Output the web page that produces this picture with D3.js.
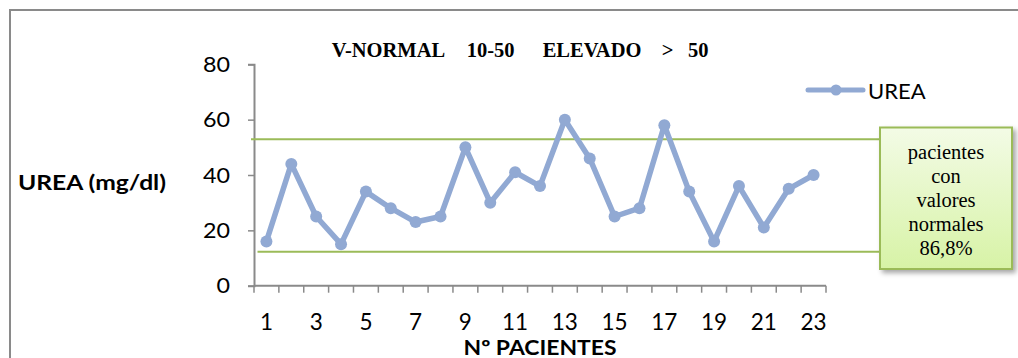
<!DOCTYPE html>
<html>
<head>
<meta charset="utf-8">
<script src="https://cdn.jsdelivr.net/npm/d3@7"></script>
<style>
  html, body { margin: 0; padding: 0; background: #fff; }
  svg { display: block; }
</style>
</head>
<body>
<svg id="chart" width="1018" height="358"></svg>
<script>
// Urea (mg/dl) per patient
const patients = d3.range(1, 24);
const urea = [16, 44, 25, 15, 34, 28, 23, 25, 50, 30, 41, 36, 60, 46, 25, 28, 58, 34, 16, 36, 21, 35, 40];
const yTicks = [0, 20, 40, 60, 80];
const xTickLabels = [1, 3, 5, 7, 9, 11, 13, 15, 17, 19, 21, 23];
// limits of the normal band drawn as guide lines
const bandLimits = [52.9, 12.3];
const titleParts = ["V-NORMAL", "10-50", "ELEVADO", ">", "50"];
const boxLines = ["pacientes", "con", "valores", "normales", "86,8%"];

const svg = d3.select("#chart");
const sans = "Lato, 'Open Sans', sans-serif";
const serif = "'Liberation Serif', 'Times New Roman', serif";
const axisGray = "#8a8a8a";
const lineBlue = "#91a9d3";
const green = "#9bbb59";

const x = d3.scaleBand().domain(patients).range([254, 826]);
const y = d3.scaleLinear().domain([0, 80]).range([285.7, 64.3]);

// outer chart frame
svg.append("path")
  .attr("d", "M10,358 L10,10 L1018,10")
  .attr("fill", "none").attr("stroke", axisGray).attr("stroke-width", 2);

// defs: box gradient and shadow
const defs = svg.append("defs");
const grad = defs.append("linearGradient").attr("id", "boxGrad")
  .attr("x1", 0).attr("y1", 0).attr("x2", 0).attr("y2", 1);
grad.append("stop").attr("offset", "0%").attr("stop-color", "#f3fbe6");
grad.append("stop").attr("offset", "100%").attr("stop-color", "#d7f3a6");
const shadow = defs.append("filter").attr("id", "shadow")
  .attr("x", "-10%").attr("y", "-10%").attr("width", "130%").attr("height", "130%");
shadow.append("feDropShadow").attr("dx", 3).attr("dy", 3).attr("stdDeviation", 2.5)
  .attr("flood-color", "#000").attr("flood-opacity", 0.35);

// y axis
const yAxis = d3.axisLeft(y).tickValues(yTicks).tickSize(6).tickPadding(18);
const gy = svg.append("g").attr("transform", "translate(254,0)").call(yAxis);
gy.select(".domain").attr("stroke", axisGray).attr("stroke-width", 2);
gy.selectAll(".tick line").attr("stroke", axisGray).attr("stroke-width", 1.5);
gy.selectAll(".tick text")
  .attr("font-family", sans).attr("font-size", 22).attr("fill", "#000")
  .attr("textLength", function () { return this.getComputedTextLength() * 1.06; })
  .attr("lengthAdjust", "spacingAndGlyphs");

// x axis: ticks at category boundaries, labels at odd patients
const boundaries = patients.map(p => x(p)).concat([x.range()[1]]);
const gx = svg.append("g");
gx.append("line")
  .attr("x1", x.range()[0]).attr("x2", x.range()[1])
  .attr("y1", y(0)).attr("y2", y(0))
  .attr("stroke", axisGray).attr("stroke-width", 2);
gx.selectAll("line.tick").data(boundaries).join("line")
  .attr("class", "tick")
  .attr("x1", d => d).attr("x2", d => d)
  .attr("y1", y(0)).attr("y2", y(0) + 7)
  .attr("stroke", axisGray).attr("stroke-width", 1.5);
gx.selectAll("text").data(xTickLabels).join("text")
  .attr("x", d => x(d) + x.bandwidth() / 2)
  .attr("y", 329.5)
  .attr("text-anchor", "middle")
  .attr("font-family", sans).attr("font-size", 22.5).attr("fill", "#000")
  .text(d => d);

// axis titles
svg.append("text")
  .attr("x", 18).attr("y", 190)
  .attr("font-family", sans).attr("font-weight", "bold").attr("font-size", 20)
  .attr("textLength", 148).attr("lengthAdjust", "spacingAndGlyphs")
  .text("UREA (mg/dl)");
svg.append("text")
  .attr("x", 463.5).attr("y", 354.5)
  .attr("font-family", sans).attr("font-weight", "bold").attr("font-size", 20.5)
  .attr("textLength", 153).attr("lengthAdjust", "spacingAndGlyphs")
  .text("Nº PACIENTES");

// chart title, words spaced apart
const titleX = [331.7, 466.7, 542.7, 661.7, 688];
svg.append("text")
  .attr("y", 56.7)
  .attr("font-family", serif).attr("font-weight", "bold").attr("font-size", 20.5)
  .selectAll("tspan").data(titleParts).join("tspan")
  .attr("x", (d, i) => titleX[i])
  .text(d => d);

// normal band guide lines
svg.selectAll("line.band").data(bandLimits).join("line")
  .attr("class", "band")
  .attr("x1", (d, i) => i === 0 ? 251 : 257.5).attr("x2", 880)
  .attr("y1", d => y(d)).attr("y2", d => y(d))
  .attr("stroke", green).attr("stroke-width", 2);

// series line and markers
const cx = p => x(p) + x.bandwidth() / 2;
const line = d3.line().x((d, i) => cx(patients[i])).y(d => y(d));
svg.append("path")
  .datum(urea)
  .attr("d", line)
  .attr("fill", "none").attr("stroke", lineBlue)
  .attr("stroke-width", 5.5).attr("stroke-linejoin", "round");
svg.selectAll("circle.pt").data(urea).join("circle")
  .attr("class", "pt")
  .attr("cx", (d, i) => cx(patients[i]))
  .attr("cy", d => y(d))
  .attr("r", 6)
  .attr("fill", lineBlue);

// legend
const lg = svg.append("g");
lg.append("line").attr("x1", 808).attr("x2", 863).attr("y1", 90).attr("y2", 90)
  .attr("stroke", lineBlue).attr("stroke-width", 5).attr("stroke-linecap", "round");
lg.append("circle").attr("cx", 836).attr("cy", 90).attr("r", 5.5).attr("fill", lineBlue);
lg.append("text").attr("x", 868).attr("y", 98.5)
  .attr("font-family", sans).attr("font-size", 22).attr("fill", "#000")
  .text("UREA");

// annotation box
const box = svg.append("g");
box.append("rect")
  .attr("x", 880).attr("y", 127.5).attr("width", 132).attr("height", 141.5)
  .attr("fill", "url(#boxGrad)").attr("stroke", green).attr("stroke-width", 2)
  .attr("filter", "url(#shadow)");
box.selectAll("text").data(boxLines).join("text")
  .attr("x", 946).attr("y", (d, i) => 159 + i * 24)
  .attr("text-anchor", "middle")
  .attr("font-family", serif).attr("font-size", 20.5).attr("fill", "#000")
  .text(d => d);
</script>
</body>
</html>
